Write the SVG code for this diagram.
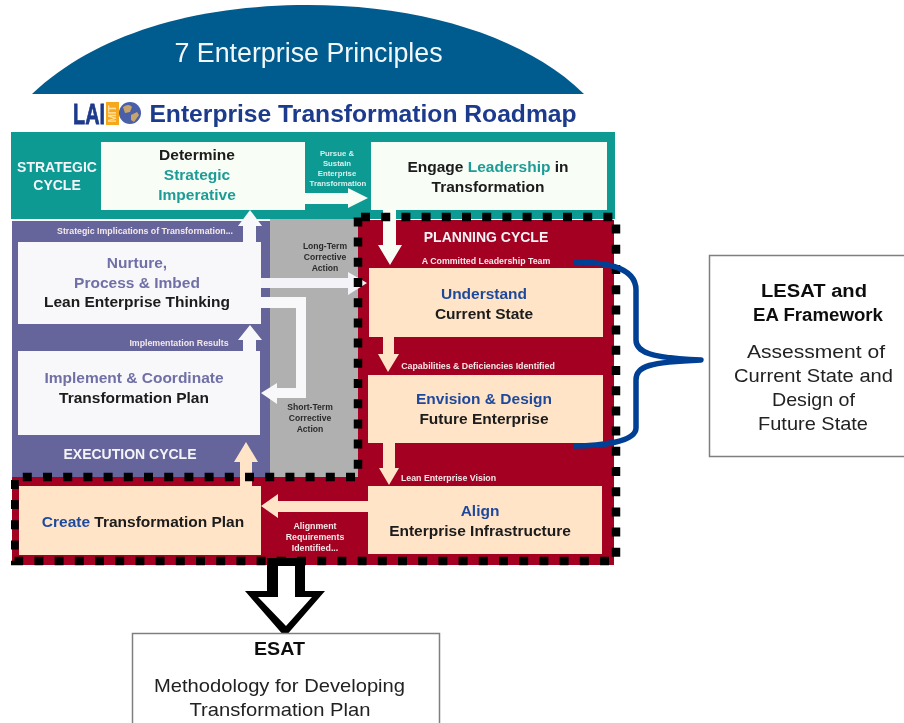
<svg xmlns="http://www.w3.org/2000/svg" width="904" height="723" viewBox="0 0 904 723">
<defs>
<style>
text{font-family:"Liberation Sans",Arial,sans-serif;text-anchor:middle}
.b{font-weight:700}
.h{font-size:15.5px;font-weight:700;fill:#1a1a1a}
.teal{fill:#1f9c96}.pur{fill:#6f6fa6}.blue{fill:#1f4a9c}
.cyc{font-size:14px;font-weight:700;fill:#f4f4f8}
.sm{font-size:8.8px;font-weight:700;fill:#f3e8ea}
.pu{font-size:7.8px;font-weight:700;fill:#d8f0ee}
.gr{font-size:8.6px;font-weight:700;fill:#2b2b2b}
.note{font-size:18.5px;fill:#222}
.noteb{font-size:17.5px;font-weight:700;fill:#111}
.wf{fill:#f8f8fb}.cr{fill:#ffe4c8}.gw{fill:#f8fdf6}
.dash{fill:none;stroke:#000;stroke-width:8.5;stroke-dasharray:9 11.2}
.box{fill:#fff;stroke:#7f7f7f;stroke-width:1.5}
</style>
<filter id="soft" x="0" y="0" width="100%" height="100%"><feGaussianBlur stdDeviation="0.45"/></filter>
</defs>
<rect width="904" height="723" fill="#fff"/>
<g filter="url(#soft)">
<g id="principles">
<path d="M32 94C95 34 195 5 308 5S525 36 584 94Z" fill="#005b8f"/>
<text x="308.500" y="62" font-size="26.800" fill="#f2f7fa">7 Enterprise Principles</text>
</g>
<g id="title">
<text x="89" y="124" font-size="30" class="b" fill="#1c3a8c" stroke="#1c3a8c" stroke-width="0.8" textLength="32" lengthAdjust="spacingAndGlyphs">LAI</text>
<rect x="106" y="102" width="13" height="23" fill="#f5a81c"/>
<text transform="translate(116 114) rotate(-90)" font-size="10" class="b" fill="#ffe0a0">MIT</text>
<circle cx="130" cy="113" r="11" fill="#4a5fa8"/>
<path d="M123 107q6-4 9 0l-2 5-5 1zM131 115l6-3 2 3-5 7-3-2z" fill="#c9a46a"/>
<text x="363" y="122" font-size="24.650" class="b" fill="#1c3a8c">Enterprise Transformation Roadmap</text>
</g>
<g id="panels">
<rect x="11" y="132" width="604" height="87" fill="#079a93"/>
<rect x="12" y="221" width="258" height="256" fill="#65659b"/>
<rect x="270" y="219" width="90" height="258" fill="#b0b0b0"/>
<path d="M358 220H614V565H12V477H358Z" fill="#a30021"/>
</g>
<g id="strategic">
<rect x="101" y="142" width="204" height="68" class="gw"/>
<text x="57" y="172" class="cyc">STRATEGIC</text><text x="57" y="190" class="cyc">CYCLE</text>
<text x="197" y="160" class="h">Determine</text>
<text x="197" y="180" class="h teal">Strategic</text>
<text x="197" y="200" class="h teal">Imperative</text>
</g>
<g id="engage">
<rect x="371" y="142" width="236" height="68" class="gw"/>
<text x="488" y="172" class="h">Engage <tspan class="teal">Leadership</tspan> in</text>
<text x="488" y="192" class="h">Transformation</text>
</g>
<g id="nurture">
<rect x="18" y="242" width="243" height="82" class="wf"/>
<text x="137" y="268" class="h pur">Nurture,</text>
<text x="137" y="288" class="h pur">Process &amp; Imbed</text>
<text x="137" y="307" class="h">Lean Enterprise Thinking</text>
</g>
<g id="implement">
<rect x="18" y="351" width="242" height="84" class="wf"/>
<text x="134" y="383" class="h pur">Implement &amp; Coordinate</text>
<text x="134" y="403" class="h">Transformation Plan</text>
</g>
<g id="understand">
<rect x="369" y="268" width="234" height="69" class="cr"/>
<text x="484" y="299" class="h blue">Understand</text>
<text x="484" y="319" class="h">Current State</text>
</g>
<g id="envision">
<rect x="368" y="375" width="235" height="68" class="cr"/>
<text x="484" y="404" class="h blue">Envision &amp; Design</text>
<text x="484" y="424" class="h">Future Enterprise</text>
</g>
<g id="align">
<rect x="368" y="486" width="234" height="68" class="cr"/>
<text x="480" y="516" class="h blue">Align</text>
<text x="480" y="536" class="h">Enterprise Infrastructure</text>
</g>
<g id="create">
<rect x="19" y="486" width="242" height="69" class="cr"/>
<text x="143" y="527" class="h"><tspan class="blue">Create</tspan> Transformation Plan</text>
</g>
<g id="labels">
<text x="145" y="234" class="sm">Strategic Implications of Transformation...</text>
<text x="179" y="346" class="sm">Implementation Results</text>
<text x="130" y="459" class="cyc">EXECUTION CYCLE</text>
<text x="486" y="242" class="cyc">PLANNING CYCLE</text>
<text x="486" y="264" class="sm">A Committed Leadership Team</text>
<text x="478" y="369" class="sm">Capabilities &amp; Deficiencies Identified</text>
<text x="448.500" y="481" class="sm">Lean Enterprise Vision</text>
<text x="337" y="156" class="pu">Pursue &amp;</text>
<text x="337" y="166" class="pu">Sustain</text>
<text x="337" y="176" class="pu">Enterprise</text>
<text x="338" y="186" class="pu">Transformation</text>
<text x="325" y="249" class="gr">Long-Term</text><text x="325" y="260" class="gr">Corrective</text><text x="325" y="271" class="gr">Action</text>
<text x="310" y="410" class="gr">Short-Term</text><text x="310" y="421" class="gr">Corrective</text><text x="310" y="432" class="gr">Action</text>
<text x="315" y="529" class="sm">Alignment</text><text x="315" y="540" class="sm">Requirements</text><text x="315" y="551" class="sm">Identified...</text>
</g>
<g id="connectors">
<path d="M243 242V226H238L250 210 262 226H256V242Z" fill="#f8f8fb"/>
<path d="M305 193H348V188L368 198 348 208V204H305Z" fill="#f8fdf6"/>
<path d="M383 205H396V245H402L390 265 378 245H383Z" fill="#f8fdf6"/>
<path d="M261 278H348V272L367 283 348 295V288H261Z" fill="#f4f4f8"/>
<path d="M261 297H306V398H277V404L261 393 277 383V388H296V308H261Z" fill="#f8f8fb"/>
<path d="M243 351V340H238L250 325 262 340H256V351Z" fill="#f8f8fb"/>
<path d="M240 486V462H234L246 442 258 462H252V486Z" fill="#ffe4c8"/>
<path d="M383 337H394V354H399L388 372 378 354H383Z" fill="#ffe4c8"/>
<path d="M383 443H395V468H399L389 485 379 468H383Z" fill="#ffe4c8"/>
<path d="M368 501H278V494L261 506 278 518V512H368Z" fill="#ffe4c8"/>
<path d="M267 558H305V591H325L285 637 245 591H267Z" fill="#000"/>
<path d="M278 566H295V597H312L286 626 258 597H278Z" fill="#fff"/>
<path class="dash" d="M361 217H616V561H14.500V477H358V217"/>
<path d="M574 262C600 262 636 265 636 290V340C636 352 650 358 701 360C650 362 636 366 636 380V428C636 442 600 446 574 446" fill="none" stroke="#003f94" stroke-width="5.500" stroke-linejoin="round"/>
</g>
<g id="lesat">
<rect x="709.500" y="255.500" width="197" height="201" class="box"/>
<text x="814" y="297" class="noteb" textLength="106" lengthAdjust="spacingAndGlyphs">LESAT and</text>
<text x="818" y="321" class="noteb" textLength="130" lengthAdjust="spacingAndGlyphs">EA Framework</text>
<text x="816" y="358" class="note" textLength="138" lengthAdjust="spacingAndGlyphs">Assessment of</text>
<text x="813.500" y="382" class="note" textLength="159" lengthAdjust="spacingAndGlyphs">Current State and</text>
<text x="813.500" y="406" class="note" textLength="83" lengthAdjust="spacingAndGlyphs">Design of</text>
<text x="813" y="430" class="note" textLength="110" lengthAdjust="spacingAndGlyphs">Future State</text>
</g>
<g id="esat">
<rect x="132.500" y="633.500" width="307" height="95" class="box"/>
<text x="279.500" y="655" class="noteb" textLength="51" lengthAdjust="spacingAndGlyphs">ESAT</text>
<text x="279.500" y="692" class="note" textLength="251" lengthAdjust="spacingAndGlyphs">Methodology for Developing</text>
<text x="280" y="716" class="note" textLength="181" lengthAdjust="spacingAndGlyphs">Transformation Plan</text>
</g>
</g>
</svg>
